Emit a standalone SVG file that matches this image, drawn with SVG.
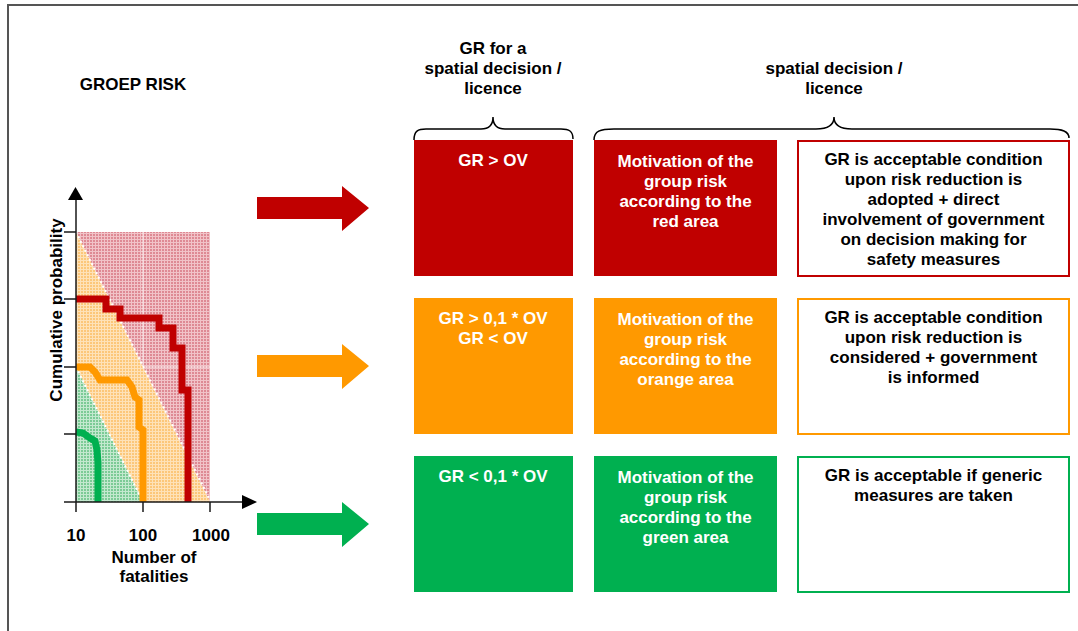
<svg xmlns="http://www.w3.org/2000/svg" width="1078" height="631" viewBox="0 0 1078 631">
<style>
text{font-family:"Liberation Sans",Arial,sans-serif;font-weight:bold;font-size:17px;text-anchor:middle}
.w{fill:#fff}
.k{fill:#000}
.brace{fill:none;stroke:#000;stroke-width:1.5}
.axis{stroke:#1a1a1a;stroke-width:1.5;fill:none}
.curve{fill:none;stroke-width:7;stroke-linejoin:miter}
.dot{stroke:#fff;stroke-width:2;stroke-dasharray:2 3;fill:none}
</style>
<defs>
<pattern id="pr" width="3" height="3" patternUnits="userSpaceOnUse"><rect width="3" height="3" fill="#f1c3c8"/><rect width="2" height="2" fill="#de8a94"/></pattern>
<pattern id="po" width="3" height="3" patternUnits="userSpaceOnUse"><rect width="3" height="3" fill="#fee2b8"/><rect width="2" height="2" fill="#fcc77a"/></pattern>
<pattern id="pg" width="3" height="3" patternUnits="userSpaceOnUse"><rect width="3" height="3" fill="#c3e9cf"/><rect width="2" height="2" fill="#7ccb96"/></pattern>
</defs>
<rect width="1078" height="631" fill="#fff"/>
<path d="M8,631 V5 H1078" fill="none" stroke="#555" stroke-width="2"/>

<g id="chart">
<text x="133" y="90">GROEP RISK</text>
<polygon points="76,232 210,232 210,502" fill="url(#pr)"/>
<polygon points="76,232 210,502 143,502 76,367" fill="url(#po)"/>
<polygon points="76,367 143,502 76,502" fill="url(#pg)"/>
<path d="M143,232 V366 M143,367 H210" stroke="#fff" stroke-width="1" opacity="0.8"/>
<line class="dot" x1="76" y1="232" x2="210" y2="500"/>
<line class="dot" x1="76" y1="367" x2="143" y2="502"/>
<path class="curve" stroke="#c00000" d="M76,299 H106 V309 H120 V318 H159 V328 H173 V348 H182 V390 H188 V502"/>
<path class="curve" stroke="#ff9900" d="M76,367 H90 L95,372 L100,380 H127 L132,387 L135,397 L139,400 V427 L143,430 V502"/>
<path class="curve" stroke="#00b050" d="M76,432 L83,433 L90,438 L95,441 L97,450 L98,463 V502"/>
<path class="axis" d="M76,200 V502 M64,502 H242 M64,232 H76 M64,299 H76 M64,367 H76 M64,434 H76 M76,502 V512 M143,502 V512 M210,502 V512"/>
<polygon points="68,200 83,200 75.5,187" fill="#000"/>
<polygon points="242,495 242,509 257,502" fill="#000"/>
<text transform="translate(62,310) rotate(-90)">Cumulative probability</text>
<text x="76" y="541">10</text>
<text x="143" y="541">100</text>
<text x="211" y="541">1000</text>
<text x="154" y="563">Number of</text>
<text x="154" y="582">fatalities</text>
</g>

<g id="connectors">
<polygon points="257,197 342,197 342,186 369,208 342,231 342,219 257,219" fill="#c00000"/>
<polygon points="257,355 342,355 342,344 369,366 342,389 342,377 257,377" fill="#ff9900"/>
<polygon points="257,513 342,513 342,502 369,524 342,547 342,535 257,535" fill="#00b050"/>
</g>

<g id="headers">
<text x="493" y="54">GR for a</text>
<text x="493" y="74">spatial decision /</text>
<text x="493" y="94">licence</text>
<path class="brace" d="M414,140 C414,131 418,129 426,129 L481,129 C489,129 493,125 493,117 C493,125 497,129 505,129 L561,129 C569,129 573,131 573,139"/>
<text x="834" y="74">spatial decision /</text>
<text x="834" y="94">licence</text>
<path class="brace" d="M594,140 C594,131 600,129 614,129 L816,129 C828,129 834,125 834,117 C834,125 840,129 852,129 L1050,129 C1062,129 1069,131 1069,138"/>
</g>

<g id="gr-red"><rect x="414" y="140" width="159" height="136" fill="#c00000"/><text class="w" x="493" y="166">GR &gt; OV</text></g>
<g id="mot-red"><rect x="594" y="140" width="183" height="136" fill="#c00000"/>
<text class="w" x="685.5" y="167">Motivation of the</text><text class="w" x="685.5" y="187">group risk</text><text class="w" x="685.5" y="207">according to the</text><text class="w" x="685.5" y="227">red area</text></g>
<g id="cond-red"><rect x="798" y="141" width="271" height="135" fill="#fff" stroke="#c00000" stroke-width="2"/>
<text class="k" x="933.5" y="165">GR is acceptable condition</text><text class="k" x="933.5" y="185">upon risk reduction is</text><text class="k" x="933.5" y="205">adopted + direct</text><text class="k" x="933.5" y="225">involvement of government</text><text class="k" x="933.5" y="245">on decision making for</text><text class="k" x="933.5" y="265">safety measures</text></g>

<g id="gr-orange"><rect x="414" y="298" width="159" height="136" fill="#ff9900"/><text class="w" x="493" y="324">GR &gt; 0,1 * OV</text><text class="w" x="493" y="344">GR &lt; OV</text></g>
<g id="mot-orange"><rect x="594" y="298" width="183" height="136" fill="#ff9900"/>
<text class="w" x="685.5" y="325">Motivation of the</text><text class="w" x="685.5" y="345">group risk</text><text class="w" x="685.5" y="365">according to the</text><text class="w" x="685.5" y="385">orange area</text></g>
<g id="cond-orange"><rect x="798" y="299" width="271" height="135" fill="#fff" stroke="#ff9900" stroke-width="2"/>
<text class="k" x="933.5" y="323">GR is acceptable condition</text><text class="k" x="933.5" y="343">upon risk reduction is</text><text class="k" x="933.5" y="363">considered + government</text><text class="k" x="933.5" y="383">is informed</text></g>

<g id="gr-green"><rect x="414" y="456" width="159" height="136" fill="#00b050"/><text class="w" x="493" y="482">GR &lt; 0,1 * OV</text></g>
<g id="mot-green"><rect x="594" y="456" width="183" height="136" fill="#00b050"/>
<text class="w" x="685.5" y="483">Motivation of the</text><text class="w" x="685.5" y="503">group risk</text><text class="w" x="685.5" y="523">according to the</text><text class="w" x="685.5" y="543">green area</text></g>
<g id="cond-green"><rect x="798" y="457" width="271" height="135" fill="#fff" stroke="#00b050" stroke-width="2"/>
<text class="k" x="933.5" y="481">GR is acceptable if generic</text><text class="k" x="933.5" y="501">measures are taken</text></g>
</svg>
